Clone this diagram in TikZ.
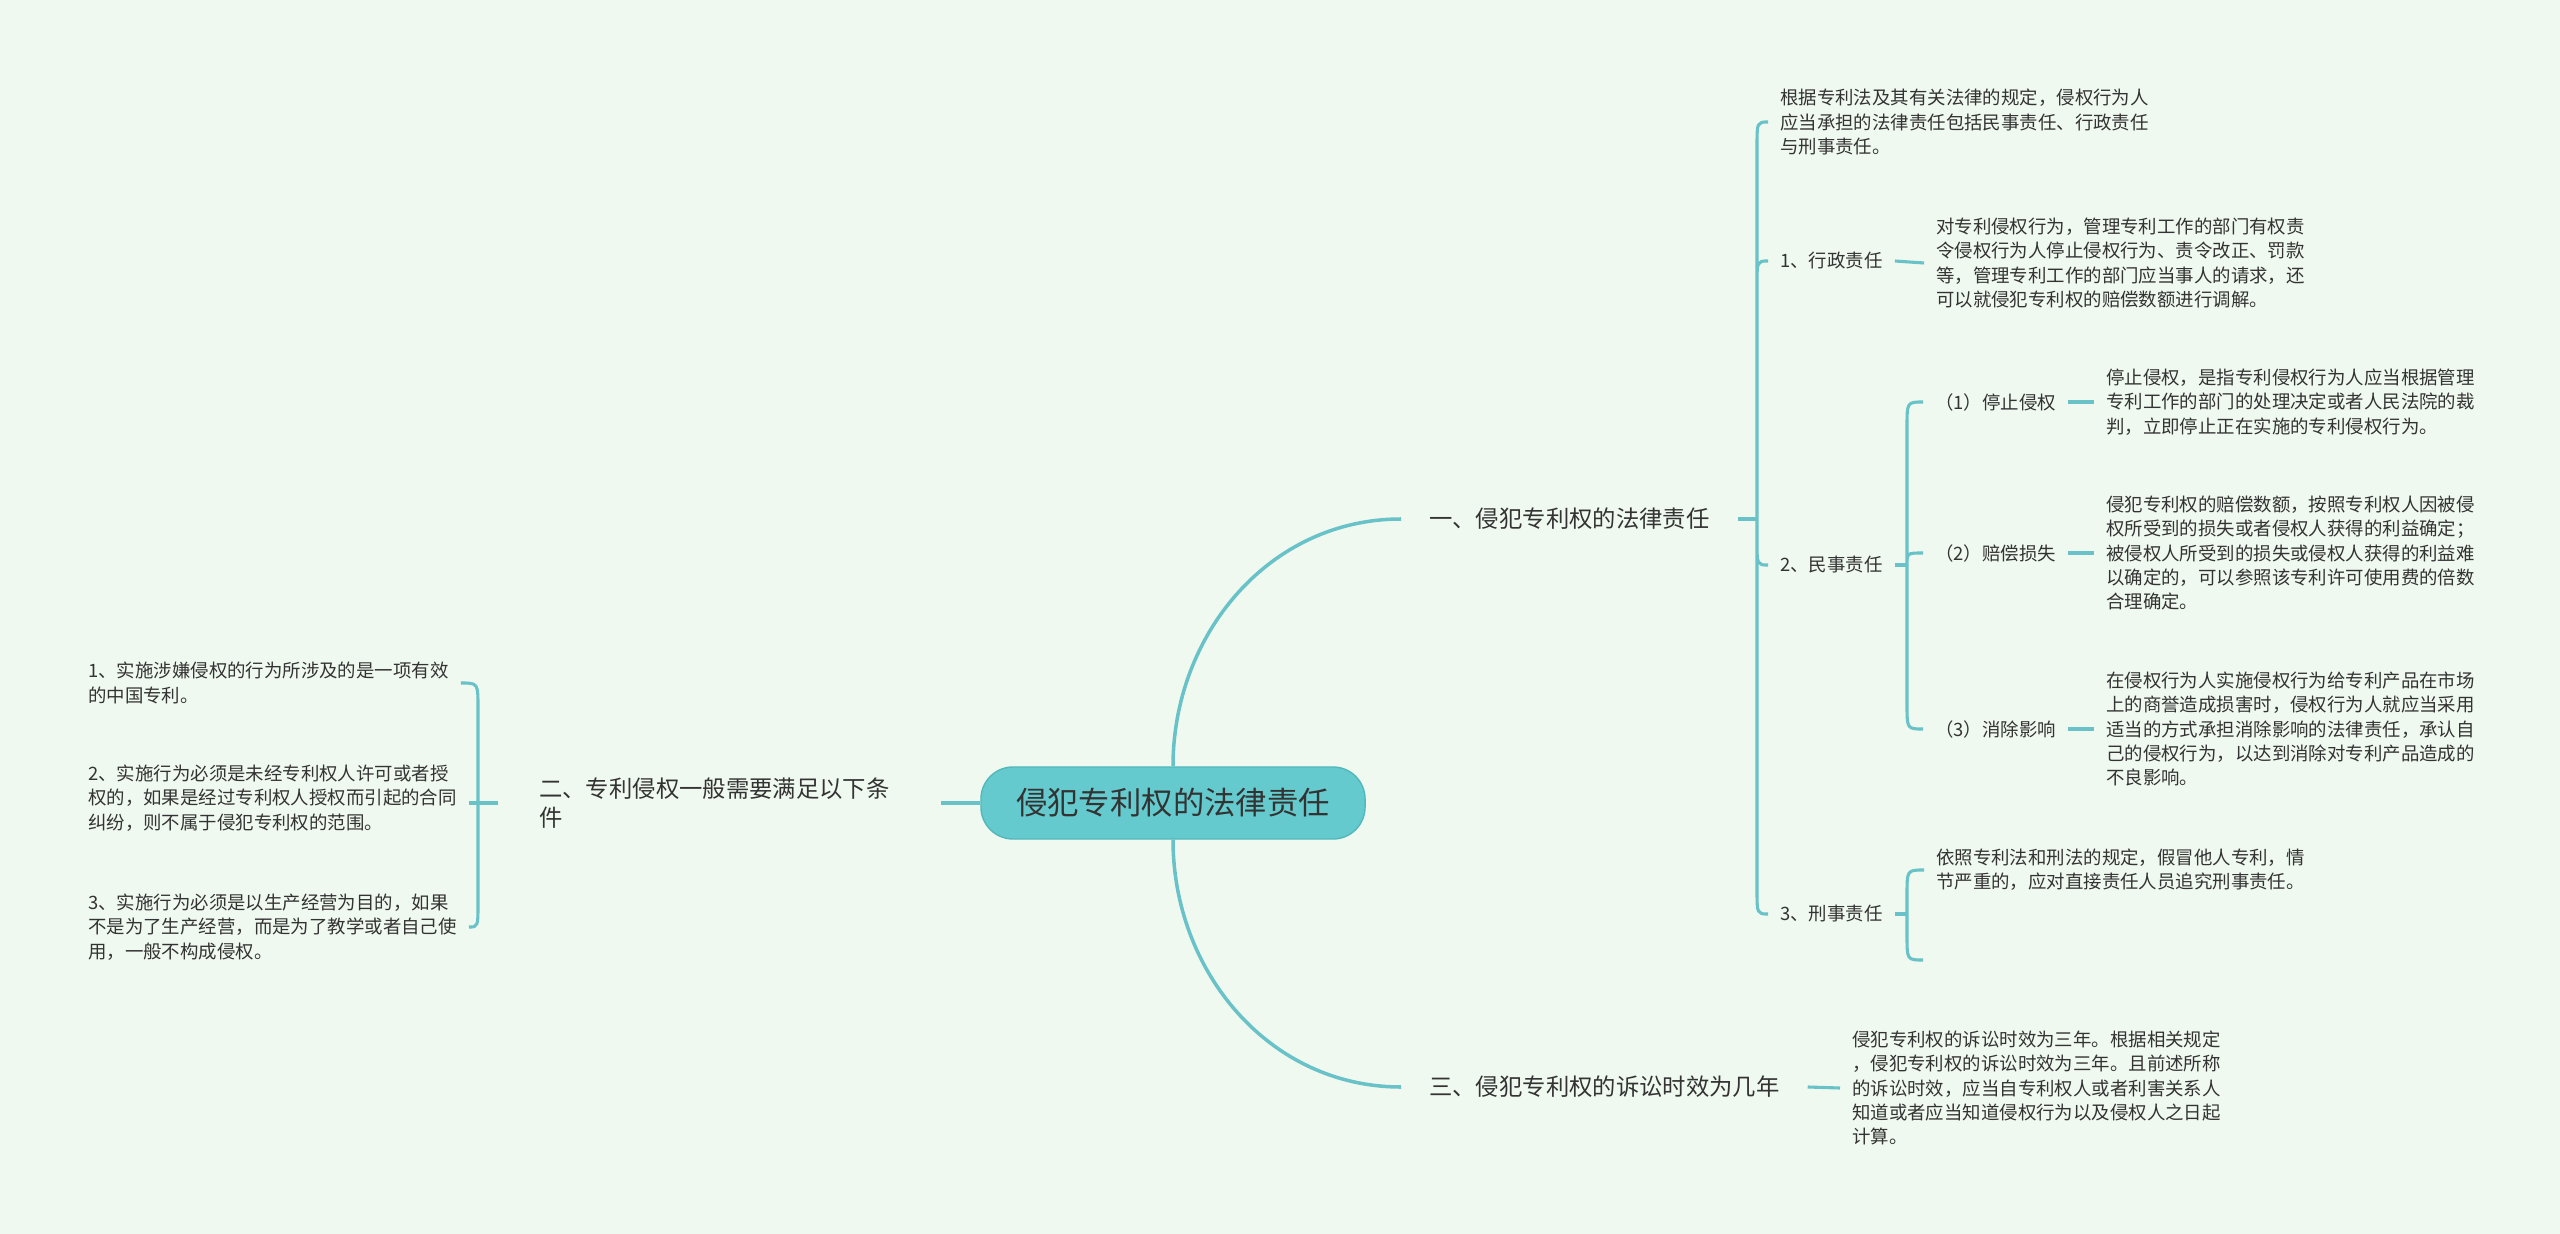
\documentclass[tikz,border=0pt]{standalone}
\usepackage{fontspec}
\setmainfont{Noto Sans CJK SC}
\usepackage{xcolor}
\usetikzlibrary{calc, positioning}
\definecolor{bgmint}{HTML}{F0F9F0}
\definecolor{linkteal}{HTML}{68C2C8}
\definecolor{rootfill}{HTML}{64CACD}
\definecolor{rootdraw}{HTML}{52B8BC}
\definecolor{inkgray}{HTML}{333333}

\begin{document}
\begin{tikzpicture}[x=0.025cm, y=-0.025cm,
  leaf/.style={font=\fontsize{13.1}{17.3}\selectfont, text=inkgray, align=left,
    inner xsep=0.3cm, inner ysep=0pt, anchor=west},
  topic/.style={font=\fontsize{16.6}{20.9}\selectfont, text=inkgray, align=left,
    inner xsep=0.7cm, inner ysep=0pt, anchor=west},
  link/.style={draw=linkteal, line width=2.2pt},
  elbow/.style={to path={-- ($(\tikztostart |- \tikztotarget)+(0,#1)$)
    .. controls (\tikztostart |- \tikztotarget) .. (\tikztotarget)}},
  elbow/.default=25]
\fill[bgmint] (0,0) rectangle (2560,1234);
\useasboundingbox (0,0) rectangle (2560,1234);

% root and main topics
\node[draw=rootdraw, fill=rootfill, line width=1pt, rounded corners=0.8cm,
  minimum width=9.6cm, minimum height=1.8cm,
  font=\fontsize{22.3}{26}\selectfont, text=inkgray] (root) at (1173,803) {侵犯专利权的法律责任};
\node[topic] (law) at (1401,519) {一、侵犯专利权的法律责任};
\node[topic, inner xsep=1.025cm, text width=9cm] (cond) at (498,803) {二、专利侵权一般需要满足以下条\\件};
\node[topic] (limit) at (1401,1087) {三、侵犯专利权的诉讼时效为几年};

% right side
\node[leaf] (basis) at (1768,122) {根据专利法及其有关法律的规定，侵权行为人\\应当承担的法律责任包括民事责任、行政责任\\与刑事责任。};
\node[leaf] (admin) at (1768,261) {1、行政责任};
\node[leaf] (adminT) at (1924,263) {对专利侵权行为，管理专利工作的部门有权责\\令侵权行为人停止侵权行为、责令改正、罚款\\等，管理专利工作的部门应当事人的请求，还\\可以就侵犯专利权的赔偿数额进行调解。};
\node[leaf] (civil) at (1768,565) {2、民事责任};
\node[leaf] (stop) at (1923,402) {（1）停止侵权};
\node[leaf] (stopT) at (2094,402) {停止侵权，是指专利侵权行为人应当根据管理\\专利工作的部门的处理决定或者人民法院的裁\\判，立即停止正在实施的专利侵权行为。};
\node[leaf] (comp) at (1923,553) {（2）赔偿损失};
\node[leaf] (compT) at (2094,553) {侵犯专利权的赔偿数额，按照专利权人因被侵\\权所受到的损失或者侵权人获得的利益确定；\\被侵权人所受到的损失或侵权人获得的利益难\\以确定的，可以参照该专利许可使用费的倍数\\合理确定。};
\node[leaf] (clear) at (1923,729) {（3）消除影响};
\node[leaf] (clearT) at (2094,729) {在侵权行为人实施侵权行为给专利产品在市场\\上的商誉造成损害时，侵权行为人就应当采用\\适当的方式承担消除影响的法律责任，承认自\\己的侵权行为，以达到消除对专利产品造成的\\不良影响。};
\node[leaf] (crim) at (1768,914) {3、刑事责任};
\node[leaf] (crimT) at (1924,870) {依照专利法和刑法的规定，假冒他人专利，情\\节严重的，应对直接责任人员追究刑事责任。};
\coordinate (crimE) at (1923,960);
\node[leaf] (limitT) at (1840,1088) {侵犯专利权的诉讼时效为三年。根据相关规定\\，侵犯专利权的诉讼时效为三年。且前述所称\\的诉讼时效，应当自专利权人或者利害关系人\\知道或者应当知道侵权行为以及侵权人之日起\\计算。};

% left side
\node[leaf] (condA) at (76,683) {1、实施涉嫌侵权的行为所涉及的是一项有效\\的中国专利。};
\node[leaf] (condB) at (76,798) {2、实施行为必须是未经专利权人许可或者授\\权的，如果是经过专利权人授权而引起的合同\\纠纷，则不属于侵犯专利权的范围。};
\node[leaf] (condC) at (76,927) {3、实施行为必须是以生产经营为目的，如果\\不是为了生产经营，而是为了教学或者自己使\\用，一般不构成侵权。};

\coordinate (J1) at (1757,519);
\coordinate (J2) at (1907,565);
\coordinate (J3) at (1907,914);
\coordinate (J4) at (478,803);

\draw[link, line width=2.5pt] (root.north) to[out=90,in=180] (law.west);
\draw[link, line width=2.5pt] (root.south) to[out=-90,in=180] (limit.west);
\draw[link] (root.west) -- (cond.east);

\draw[link] (law.east) -- (J1);
\draw[link] (J1) to[elbow] (basis.west) (J1) to[elbow] (admin.west)
  (J1) to[elbow=-25] (civil.west) (J1) to[elbow=-25] (crim.west);
\draw[link] (admin.east) -- (adminT.west);
\draw[link] (civil.east) -- (J2);
\draw[link] (J2) to[elbow] (stop.west) (J2) to[elbow=12] (comp.west) (J2) to[elbow=-25] (clear.west);
\draw[link] (stop.east) -- (stopT.west);
\draw[link] (comp.east) -- (compT.west);
\draw[link] (clear.east) -- (clearT.west);
\draw[link] (crim.east) -- (J3);
\draw[link] (J3) to[elbow] (crimT.west) (J3) to[elbow=-25] (crimE);
\draw[link] (limit.east) -- (limitT.west);

\draw[link] (cond.west) -- (J4) -- (J4 -| condB.east);
\draw[link] (J4) to[elbow] (condA.east) (J4) to[elbow=-25] (condC.east);
\end{tikzpicture}
\end{document}
